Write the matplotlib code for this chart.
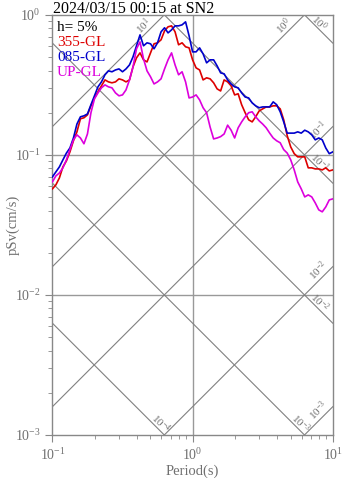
import numpy as np
import matplotlib
matplotlib.use('Agg')
import matplotlib.pyplot as plt

plt.rcParams['font.family'] = ['Liberation Serif', 'DejaVu Serif']
plt.rcParams['mathtext.fontset'] = 'custom'
plt.rcParams['mathtext.rm'] = 'Liberation Serif'
plt.rcParams['mathtext.it'] = 'Liberation Serif:italic'
plt.rcParams['mathtext.bf'] = 'Liberation Serif:bold'

# period grid of the spectrum (s), 0.025 decade steps
periods = np.logspace(-1, 1, 81)

# pSv (cm/s), h = 5%
sv_355 = [0.0572, 0.0611, 0.0685, 0.0821, 0.0906, 0.105, 0.126, 0.146, 0.181, 0.184,
          0.193, 0.224, 0.255, 0.282, 0.311, 0.343, 0.332, 0.327, 0.332, 0.349,
          0.343, 0.332, 0.343, 0.425, 0.493, 0.535, 0.477, 0.461, 0.535, 0.621,
          0.631, 0.663, 0.768, 0.821, 0.834, 0.756, 0.611, 0.631, 0.591, 0.581,
          0.477, 0.418, 0.404, 0.343, 0.355, 0.349, 0.327, 0.296, 0.286, 0.343,
          0.332, 0.311, 0.268, 0.273, 0.228, 0.200, 0.178, 0.172, 0.187, 0.206,
          0.213, 0.220, 0.220, 0.224, 0.224, 0.213, 0.178, 0.137, 0.114, 0.102,
          0.0968, 0.0968, 0.0968, 0.0808, 0.0808, 0.0794, 0.0794, 0.0781, 0.0808, 0.0768,
          0.0781]
sv_085 = [0.0696, 0.0756, 0.0821, 0.0921, 0.103, 0.112, 0.132, 0.166, 0.187, 0.190,
          0.196, 0.228, 0.264, 0.306, 0.332, 0.373, 0.398, 0.392, 0.404, 0.411,
          0.392, 0.411, 0.439, 0.501, 0.601, 0.719, 0.601, 0.631, 0.621, 0.572,
          0.631, 0.756, 0.808, 0.743, 0.781, 0.834, 0.834, 0.848, 0.891, 0.708,
          0.544, 0.544, 0.581, 0.526, 0.454, 0.477, 0.477, 0.432, 0.385, 0.379,
          0.343, 0.321, 0.306, 0.301, 0.277, 0.259, 0.255, 0.235, 0.224, 0.217,
          0.220, 0.220, 0.220, 0.239, 0.228, 0.203, 0.172, 0.143, 0.143, 0.143,
          0.146, 0.143, 0.150, 0.146, 0.139, 0.128, 0.132, 0.128, 0.112, 0.102,
          0.105]
sv_up = [0.0641, 0.0708, 0.0743, 0.0808, 0.0921, 0.109, 0.128, 0.139, 0.132, 0.120,
         0.141, 0.200, 0.251, 0.277, 0.301, 0.316, 0.306, 0.301, 0.277, 0.264,
         0.268, 0.291, 0.343, 0.425, 0.572, 0.641, 0.485, 0.398, 0.361, 0.321,
         0.332, 0.349, 0.411, 0.477, 0.535, 0.439, 0.373, 0.392, 0.332, 0.255,
         0.259, 0.268, 0.247, 0.217, 0.200, 0.158, 0.130, 0.132, 0.135, 0.141,
         0.163, 0.150, 0.132, 0.156, 0.172, 0.187, 0.200, 0.203, 0.187, 0.175,
         0.166, 0.156, 0.143, 0.132, 0.126, 0.122, 0.109, 0.103, 0.0921, 0.0781,
         0.0641, 0.0572, 0.0501, 0.0518, 0.0501, 0.0454, 0.0405, 0.0392, 0.0425, 0.0477,
         0.0485]

series_names = ['355-GL', '085-GL', 'UP-GL']
series_colors = ['#dd0000', '#0000cc', '#dd00dd']

acc_levels = [1e-3, 1e-2, 1e-1, 1e0, 1e1]    # pSa, cm/s2
disp_levels = [1e-4, 1e-3, 1e-2, 1e-1, 1e0]  # Sd, cm
acc_labels = ['$10^{-3}$', '$10^{-2}$', '$10^{-1}$', '$10^{0}$', '$10^{1}$']
disp_labels = ['$10^{-4}$', '$10^{-3}$', '$10^{-2}$', '$10^{-1}$', '$10^{0}$']

title = '2024/03/15 00:15 at SN2'

TMIN, TMAX = 0.1, 10.0
VMIN, VMAX = 1e-3, 1.0
GREY = '#707070'
PX = 1 / 140.0  # one pixel in decades

fig = plt.figure(figsize=(3.47, 4.78), dpi=100)
ax = fig.add_axes([0.151, 0.090, 0.808, 0.879])
ax.set_xscale('log')
ax.set_yscale('log')
ax.set_xlim(TMIN, TMAX)
ax.set_ylim(VMIN, VMAX)

# grid
ax.axvline(1.0, color='#999999', lw=1.0, zorder=1)
for v in [1e-1, 1e-2]:
    ax.axhline(v, color='#999999', lw=1.0, zorder=1)

tt = np.logspace(-1, 1, 200)
# acceleration lines (rising)
for a, lab in zip(acc_levels, acc_labels):
    ax.plot(tt, a * tt / (2 * np.pi), color='#808080', lw=0.8, zorder=1)
    t_top = 2 * np.pi * VMAX / a
    if t_top <= TMAX:
        lx, ly = np.log10(t_top), 0.0
        s, p = 16, 5
    else:
        lx, ly = 1.0, np.log10(a * TMAX / (2 * np.pi))
        s, p = 9, 5.5
    lx += (-s - p) * PX
    ly += (-s + p) * PX
    ax.text(10**lx, 10**ly, lab, rotation=45, rotation_mode='anchor',
            ha='center', va='center', fontsize=8, color=GREY, zorder=2)

# displacement lines (falling)
for d, lab in zip(disp_levels, disp_labels):
    ax.plot(tt, 2 * np.pi * d / tt, color='#808080', lw=0.8, zorder=1)
    t_bot = 2 * np.pi * d / VMIN
    if t_bot <= TMAX:
        lx, ly = np.log10(t_bot), -3.0
        s, p = 8, 4
    else:
        lx, ly = 1.0, np.log10(2 * np.pi * d / TMAX)
        s, p = 17, 3.5
    lx += (-s + p) * PX
    ly += (s + p) * PX
    ax.text(10**lx, 10**ly, lab, rotation=-45, rotation_mode='anchor',
            ha='center', va='center', fontsize=8, color=GREY, zorder=2)

# spectra
for sv, c in zip([sv_355, sv_085, sv_up], series_colors):
    ax.plot(periods, sv, color=c, lw=1.2, zorder=3)

# legend text
ax.text(0.016, 0.969, 'h= 5%', transform=ax.transAxes, fontsize=11,
        color='black', va='center', ha='left', zorder=4)
for i, (n, c) in enumerate(zip(series_names, series_colors)):
    ax.text(0.016, 0.933 - i * 0.0355, n, transform=ax.transAxes, fontsize=11,
            color=c, va='center', ha='left', zorder=4)

fig.text(53 / 347, 1 - 13 / 478, title, fontsize=11.5, color='black',
         ha='left', va='baseline')

for sp in ax.spines.values():
    sp.set_color('#888888')
    sp.set_linewidth(1.0)
ax.tick_params(which='both', direction='out', colors='#888888',
               labelcolor=GREY, labelsize=10)
ax.tick_params(which='major', length=5)
ax.tick_params(which='minor', length=3)
ax.set_xlabel('Period(s)', fontsize=10.5, color=GREY, labelpad=1)
ax.set_ylabel('pSv(cm/s)', fontsize=10.5, color=GREY)
ax.yaxis.set_label_coords(-0.118, 0.5)

fig.savefig('out.png', dpi=100)
